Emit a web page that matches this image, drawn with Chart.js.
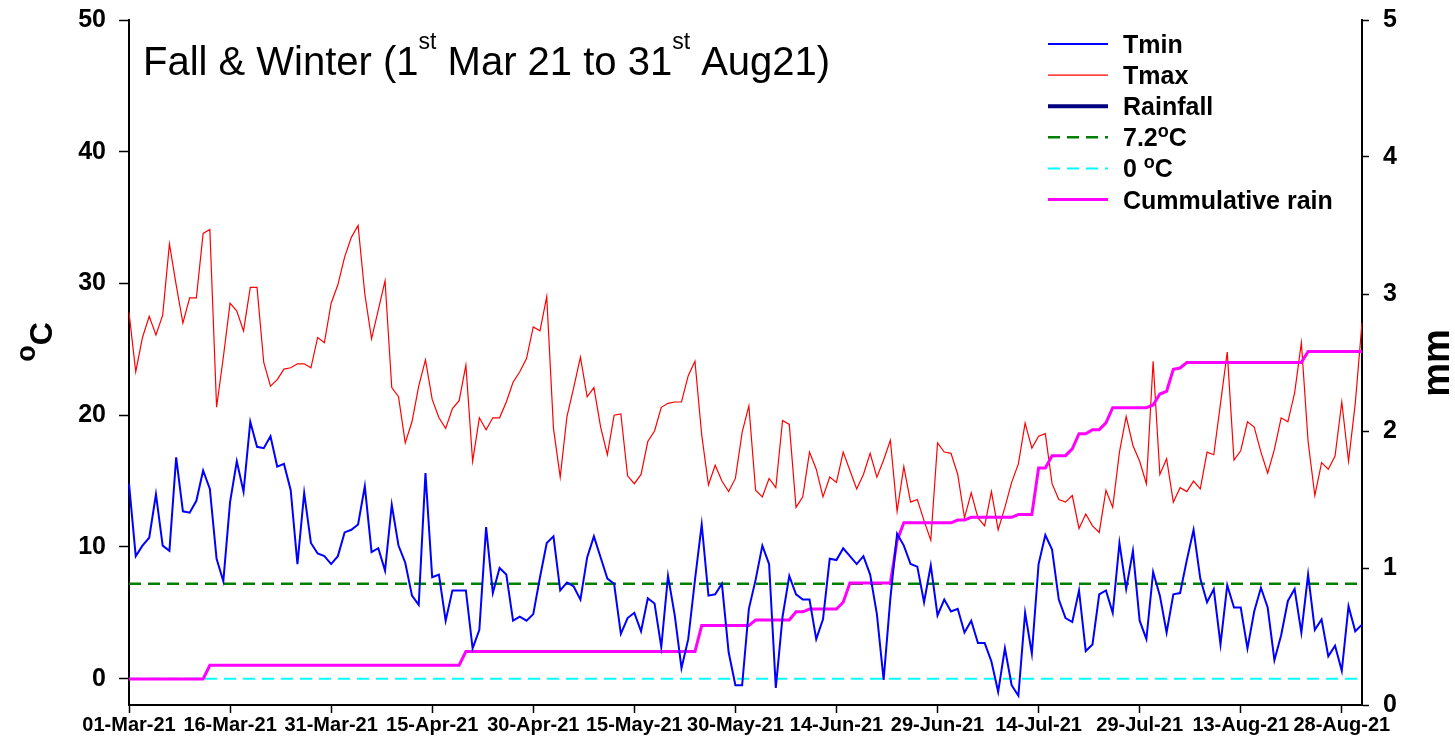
<!DOCTYPE html>
<html>
<head>
<meta charset="utf-8">
<script src="https://cdn.jsdelivr.net/npm/chart.js@4.4.1/dist/chart.umd.min.js"></script>
<style>
  html, body { margin: 0; padding: 0; background: #fff; }
</style>
</head>
<body>
<canvas id="chart" width="1455" height="739"></canvas>
<script>
// daily categories, 01-Mar-21 .. 31-Aug-21
const monthNames = ['Jan', 'Feb', 'Mar', 'Apr', 'May', 'Jun', 'Jul', 'Aug', 'Sep', 'Oct', 'Nov', 'Dec'];
const days = [];
for (let i = 0; i < 184; i++) {
  const d = new Date(2021, 2, 1 + i);
  days.push(String(d.getDate()).padStart(2, '0') + '-' + monthNames[d.getMonth()] + '-21');
}

const tickLabels = ['01-Mar-21', '16-Mar-21', '31-Mar-21', '15-Apr-21', '30-Apr-21', '15-May-21', '30-May-21',
  '14-Jun-21', '29-Jun-21', '14-Jul-21', '29-Jul-21', '13-Aug-21', '28-Aug-21'];

const tmin = [
  14.8, 9.3, 10.1, 10.7, 14.0, 10.1, 9.7, 16.8, 12.7, 12.6,
  13.5, 15.8, 14.4, 9.1, 7.4, 13.4, 16.5, 14.2, 19.5, 17.6,
  17.5, 18.4, 16.1, 16.3, 14.3, 8.7, 14.1, 10.3, 9.5, 9.3,
  8.7, 9.3, 11.1, 11.3, 11.7, 14.6, 9.6, 9.9, 8.2, 13.2,
  10.1, 8.8, 6.3, 5.6, 15.6, 7.7, 7.9, 4.4, 6.7, 6.7,
  6.7, 2.3, 3.7, 11.5, 6.5, 8.4, 7.9, 4.4, 4.7, 4.4,
  4.9, 7.7, 10.3, 10.8, 6.7, 7.3, 7.0, 6.0, 9.2, 10.8,
  9.2, 7.6, 7.2, 3.4, 4.6, 5.0, 3.6, 6.1, 5.7, 2.4,
  7.8, 4.8, 0.8, 3.0, 7.5, 11.7, 6.3, 6.4, 7.2, 2.0,
  -0.5, -0.5, 5.3, 7.5, 10.1, 8.7, -0.7, 4.7, 7.8, 6.4,
  6.0, 6.0, 3.0, 4.5, 9.1, 9.0, 9.9, 9.3, 8.7, 9.3,
  7.9, 4.9, -0.1, 6.1, 11.0, 10.1, 8.7, 8.5, 5.8, 8.6,
  4.8, 6.0, 5.1, 5.3, 3.5, 4.4, 2.7, 2.7, 1.3, -1.0,
  2.3, -0.5, -1.3, 5.0, 1.9, 8.7, 10.9, 9.8, 6.0, 4.6,
  4.3, 6.7, 2.1, 2.6, 6.4, 6.7, 5.0, 10.3, 6.8, 9.7,
  4.4, 3.0, 8.1, 6.3, 3.5, 6.4, 6.5, 9.0, 11.3, 7.6,
  5.8, 6.8, 2.6, 7.1, 5.4, 5.4, 2.3, 5.1, 6.9, 5.4,
  1.4, 3.3, 5.9, 6.8, 3.5, 7.9, 3.7, 4.5, 1.7, 2.5,
  0.6, 5.5, 3.6, 4.1
];

const tmax = [
  27.8, 23.3, 25.9, 27.5, 26.1, 27.6, 33.0, 29.9, 27.0, 28.9,
  28.9, 33.8, 34.1, 20.6, 24.4, 28.5, 27.9, 26.4, 29.7, 29.7,
  24.0, 22.2, 22.7, 23.5, 23.6, 23.9, 23.9, 23.6, 25.9, 25.5,
  28.5, 29.9, 32.0, 33.5, 34.4, 29.2, 25.8, 28.0, 30.2, 22.1,
  21.4, 17.9, 19.5, 22.2, 24.2, 21.2, 19.8, 19.0, 20.5, 21.1,
  23.8, 16.5, 19.8, 18.9, 19.8, 19.8, 21.0, 22.5, 23.3, 24.3,
  26.7, 26.4, 29.0, 19.0, 15.3, 19.9, 22.1, 24.4, 21.4, 22.1,
  19.1, 17.0, 20.0, 20.1, 15.4, 14.8, 15.5, 18.0, 18.8, 20.6,
  20.9, 21.0, 21.0, 23.0, 24.1, 18.5, 14.7, 16.2, 15.0, 14.2,
  15.2, 18.7, 20.7, 14.3, 13.8, 15.2, 14.5, 19.6, 19.3, 13.0,
  13.8, 17.2, 15.9, 13.8, 15.3, 14.9, 17.2, 15.8, 14.4, 15.5,
  17.1, 15.3, 16.6, 18.1, 12.7, 16.1, 13.4, 13.6, 12.0, 10.5,
  17.9, 17.2, 17.1, 15.5, 12.2, 14.1, 12.2, 11.6, 14.2, 11.3,
  13.0, 14.9, 16.3, 19.4, 17.5, 18.4, 18.6, 14.8, 13.6, 13.4,
  13.9, 11.4, 12.5, 11.6, 11.1, 14.3, 13.0, 17.2, 19.9, 17.7,
  16.5, 14.8, 24.1, 15.5, 16.7, 13.4, 14.5, 14.2, 15.0, 14.4,
  17.2, 17.0, 20.9, 24.8, 16.6, 17.3, 19.5, 19.1, 17.2, 15.6,
  17.4, 19.8, 19.5, 21.7, 25.5, 18.0, 13.9, 16.4, 15.9, 16.9,
  21.0, 16.5, 20.9, 27.0
];

// cumulative rain, mm (right axis)
const cumRain = [
  0.19, 0.19, 0.19, 0.19, 0.19, 0.19, 0.19, 0.19, 0.19, 0.19,
  0.19, 0.19, 0.29, 0.29, 0.29, 0.29, 0.29, 0.29, 0.29, 0.29,
  0.29, 0.29, 0.29, 0.29, 0.29, 0.29, 0.29, 0.29, 0.29, 0.29,
  0.29, 0.29, 0.29, 0.29, 0.29, 0.29, 0.29, 0.29, 0.29, 0.29,
  0.29, 0.29, 0.29, 0.29, 0.29, 0.29, 0.29, 0.29, 0.29, 0.29,
  0.39, 0.39, 0.39, 0.39, 0.39, 0.39, 0.39, 0.39, 0.39, 0.39,
  0.39, 0.39, 0.39, 0.39, 0.39, 0.39, 0.39, 0.39, 0.39, 0.39,
  0.39, 0.39, 0.39, 0.39, 0.39, 0.39, 0.39, 0.39, 0.39, 0.39,
  0.39, 0.39, 0.39, 0.39, 0.39, 0.58, 0.58, 0.58, 0.58, 0.58,
  0.58, 0.58, 0.58, 0.62, 0.62, 0.62, 0.62, 0.62, 0.62, 0.68,
  0.68, 0.70, 0.70, 0.70, 0.70, 0.70, 0.75, 0.89, 0.89, 0.89,
  0.89, 0.89, 0.89, 0.89, 1.20, 1.33, 1.33, 1.33, 1.33, 1.33,
  1.33, 1.33, 1.33, 1.35, 1.35, 1.37, 1.37, 1.37, 1.37, 1.37,
  1.37, 1.37, 1.39, 1.39, 1.39, 1.73, 1.73, 1.82, 1.82, 1.82,
  1.87, 1.98, 1.98, 2.01, 2.01, 2.06, 2.17, 2.17, 2.17, 2.17,
  2.17, 2.17, 2.19, 2.27, 2.29, 2.45, 2.46, 2.50, 2.50, 2.50,
  2.50, 2.50, 2.50, 2.50, 2.50, 2.50, 2.50, 2.50, 2.50, 2.50,
  2.50, 2.50, 2.50, 2.50, 2.50, 2.58, 2.58, 2.58, 2.58, 2.58,
  2.58, 2.58, 2.58, 2.58
];

// daily rainfall has no visible marks in the source, only its legend entry
const rainfall = [];

const baseTemp = 7.2;
const zeroTemp = 0;

const FONT = "'Liberation Sans', Arial, Helvetica, sans-serif";
Chart.defaults.font.family = FONT;
Chart.defaults.color = '#000';

// text with ^{...} superscripts
function drawRich(ctx, text, x, y, size, weight, supScale, supRaise, align) {
  const parts = text.split(/\^\{([^}]*)\}/);
  const font = (s) => weight + ' ' + s + 'px ' + FONT;
  const supSize = Math.round(size * supScale);
  let total = 0;
  parts.forEach((p, i) => {
    ctx.font = font(i % 2 ? supSize : size);
    total += ctx.measureText(p).width;
  });
  let cx = align === 'center' ? x - total / 2 : x;
  ctx.textAlign = 'left';
  ctx.textBaseline = 'alphabetic';
  parts.forEach((p, i) => {
    const sup = i % 2 === 1;
    ctx.font = font(sup ? supSize : size);
    ctx.fillText(p, cx, sup ? y - size * supRaise : y);
    cx += ctx.measureText(p).width;
  });
}

const decorations = {
  id: 'decorations',
  afterDraw(chart) {
    const ctx = chart.ctx;
    ctx.save();
    ctx.fillStyle = '#000';

    // title inside the plot
    drawRich(ctx, 'Fall & Winter (1^{st} Mar 21 to 31^{st} Aug21)', 143, 75, 40, 'normal', 0.58, 0.64, 'left');

    // legend
    const lx = 1048, ly = 44, gap = 31.1;
    chart.data.datasets.forEach((ds, i) => {
      const y = ly + i * gap;
      ctx.save();
      ctx.strokeStyle = ds.borderColor;
      ctx.lineWidth = ds.borderWidth;
      ctx.setLineDash(ds.borderDash || []);
      ctx.beginPath();
      ctx.moveTo(lx, y);
      ctx.lineTo(lx + 60, y);
      ctx.stroke();
      ctx.restore();
      ctx.fillStyle = '#000';
      drawRich(ctx, ds.label, lx + 75, y + 9, 25, 'bold', 0.7, 0.36, 'left');
    });

    // axis titles
    ctx.save();
    ctx.translate(52, 342);
    ctx.rotate(-Math.PI / 2);
    drawRich(ctx, '^{o}C', 0, 0, 32, 'bold', 0.85, 0.53, 'center');
    ctx.restore();

    ctx.save();
    ctx.translate(1449, 363);
    ctx.rotate(-Math.PI / 2);
    drawRich(ctx, 'mm', 0, 0, 38, 'bold', 1, 0, 'center');
    ctx.restore();

    ctx.restore();
  }
};

const tickFont = { family: FONT, size: 25, weight: 'bold' };

// keep the plot edges where the source has them
const noVertPad = (s) => { s.paddingTop = 0; s.paddingBottom = 0; };

new Chart(document.getElementById('chart'), {
  type: 'line',
  data: {
    labels: days,
    datasets: [
      { label: 'Tmin', data: tmin, borderColor: '#0000ff', borderWidth: 2, yAxisID: 'y', order: 0 },
      { label: 'Tmax', data: tmax, borderColor: '#ff0000', borderWidth: 1.2, yAxisID: 'y', order: 2 },
      { label: 'Rainfall', data: rainfall, borderColor: '#000080', borderWidth: 4, yAxisID: 'y1', order: 5 },
      { label: '7.2^{o}C', data: [{ x: days[0], y: baseTemp }, { x: days[days.length - 1], y: baseTemp }],
        borderColor: '#008000', borderWidth: 2.5, borderDash: [12, 7], yAxisID: 'y', order: 3 },
      { label: '0 ^{o}C', data: [{ x: days[0], y: zeroTemp }, { x: days[days.length - 1], y: zeroTemp }],
        borderColor: '#00ffff', borderWidth: 2, borderDash: [12, 7], yAxisID: 'y', order: 4 },
      { label: 'Cummulative rain', data: cumRain, borderColor: '#ff00ff', borderWidth: 3, yAxisID: 'y1', order: 1 }
    ]
  },
  options: {
    responsive: false,
    animation: false,
    devicePixelRatio: 1,
    elements: {
      point: { radius: 0, hoverRadius: 0 },
      line: { tension: 0, fill: false }
    },
    layout: { padding: { top: 20, left: 0, right: 0, bottom: 0 } },
    plugins: {
      legend: { display: false },
      tooltip: { enabled: false }
    },
    scales: {
      x: {
        type: 'category',
        offset: false,
        grid: { drawOnChartArea: false, tickLength: 8, tickWidth: 1.5, tickColor: '#000' },
        border: { display: true, color: '#000', width: 2 },
        ticks: { autoSkip: false, maxRotation: 0, minRotation: 0, padding: 0,
          font: { family: FONT, size: 20, weight: 'bold' } },
        afterBuildTicks: (s) => { s.ticks = s.ticks.filter(t => tickLabels.includes(days[t.value])); },
        afterFit: (s) => { s.height = 34; }
      },
      y: {
        position: 'left',
        min: -2,
        max: 50,
        ticks: { stepSize: 10, includeBounds: false, padding: 13, font: tickFont },
        grid: { drawOnChartArea: false, tickLength: 10, tickWidth: 1.5, tickColor: '#000' },
        border: { display: true, color: '#000', width: 2 },
        afterFit: (s) => { s.width = 129; noVertPad(s); }
      },
      y1: {
        position: 'right',
        min: 0,
        max: 5,
        ticks: { stepSize: 1, padding: 14, font: tickFont },
        grid: { drawOnChartArea: false, tickLength: 7, tickWidth: 1.5, tickColor: '#000' },
        border: { display: true, color: '#000', width: 2 },
        afterFit: (s) => { s.width = 93; noVertPad(s); }
      }
    }
  },
  plugins: [decorations]
});
</script>
</body>
</html>
